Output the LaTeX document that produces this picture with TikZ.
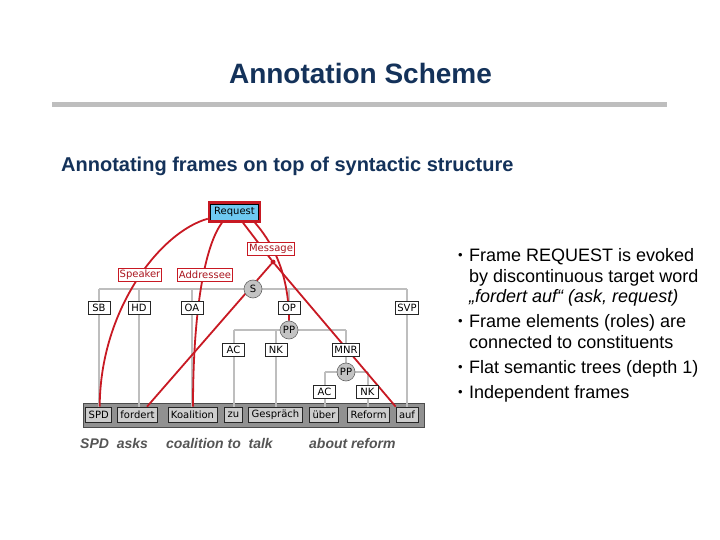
\documentclass[tikz,border=0pt]{standalone}
\usepackage{fontspec}
\setmainfont{Liberation Sans}
\newfontfamily\tigerfont{DejaVu Sans}
\usetikzlibrary{positioning, fit, backgrounds, calc}
\definecolor{slnavy}{RGB}{20,50,90}
\definecolor{slrule}{RGB}{190,190,190}
\definecolor{frred}{RGB}{200,25,35}
\definecolor{reqblue}{RGB}{110,200,240}
\definecolor{treegray}{RGB}{190,190,190}
\definecolor{barfill}{RGB}{145,145,145}
\definecolor{wordfill}{RGB}{205,205,205}
\definecolor{catfill}{RGB}{195,195,195}
\definecolor{transgray}{RGB}{85,85,85}
\tikzset{
  tigertxt/.style  = {font=\tigerfont\fontsize{10}{11}\selectfont},
  wordbox/.style   = {tigertxt, draw=black!85, fill=wordfill, line width=0.6pt,
                      minimum height=15pt, inner xsep=3pt, inner ysep=0pt},
  edgelab/.style   = {tigertxt, draw=black!85, fill=white, line width=0.6pt,
                      minimum height=13pt, minimum width=22pt,
                      inner xsep=2pt, inner ysep=0pt},
  catnode/.style   = {tigertxt, circle, draw=black!60, fill=catfill,
                      line width=0.6pt, minimum size=18pt, inner sep=0pt},
  felab/.style     = {tigertxt, draw=frred, fill=white, line width=0.8pt,
                      text=frred!85!black, minimum height=13pt,
                      inner xsep=1.5pt, inner ysep=0pt},
  reqbox/.style    = {tigertxt, draw=black, fill=reqblue, line width=0.6pt,
                      minimum height=16pt, minimum width=48pt, inner sep=0pt},
  treeline/.style  = {draw=treegray, line width=2pt},
  feline/.style    = {draw=frred, line width=1.8pt},
  slidetxt/.style  = {anchor=base west, inner sep=0pt,
                      font=\fontsize{18}{21}\selectfont},
  bulletmark/.style= {anchor=base, inner sep=0pt,
                      font=\fontsize{13}{15}\selectfont},
  transtxt/.style  = {anchor=base west, inner sep=0pt, text=transgray,
                      font=\fontsize{14}{16}\selectfont\bfseries\itshape},
}

\begin{document}
\begin{tikzpicture}[x=1pt, y=-1pt]
  \useasboundingbox (0,0) rectangle (720,540);

  % slide heading
  \node[anchor=base, inner sep=0pt, text=slnavy,
        font=\fontsize{28}{32}\selectfont\bfseries] (title) at (360.5,84) {Annotation Scheme};
  \draw[slrule, line width=5pt] (52,104.3) -- (666.5,104.3);
  \node[anchor=base west, inner sep=0pt, text=slnavy,
        font=\fontsize{20}{24}\selectfont\bfseries] (subtitle) at (61,172)
        {Annotating frames on top of syntactic structure};

  % terminals
  \node[wordbox] (spd)       at (98.7,414.5)  {SPD};
  \node[wordbox] (fordert)   at (137.5,414.5) {fordert};
  \node[wordbox] (koalition) at (192.5,414.5) {Koalition};
  \node[wordbox] (zu)        at (233.5,414.5) {zu};
  \node[wordbox] (gespraech) at (275.5,414.5) {Gespräch};
  \node[wordbox] (ueber)     at (324,414.5)   {über};
  \node[wordbox] (reform)    at (368.5,414.5) {Reform};
  \node[wordbox] (auf)       at (407,414.5)   {auf};

  % syntax tree
  \node[catnode] (s)   at (253,289) {S};
  \node[edgelab] (sb)  at (99,308)  {SB};
  \node[edgelab] (hd)  at (139,308) {HD};
  \node[edgelab] (oa)  at (192,308) {OA};
  \node[edgelab] (op)  at (289,308) {OP};
  \node[edgelab] (svp) at (407,308) {SVP};
  \node[catnode] (pp1) at (289,330) {PP};
  \node[edgelab] (ac1) at (233.5,350) {AC};
  \node[edgelab] (nk1) at (276,350)   {NK};
  \node[edgelab] (mnr) at (346,350)   {MNR};
  \node[catnode] (pp2) at (346,372)   {PP};
  \node[edgelab] (ac2) at (324.5,392) {AC};
  \node[edgelab] (nk2) at (367.5,392) {NK};

  % frame
  \node[reqbox] (req) at (234.5,212) {Request};
  \node[fit=(req), draw=frred, line width=2.5pt, inner sep=1.2pt] (reqf) {};
  \node[felab] (message)   at (271,249) {Message};
  \node[felab] (speaker)   at (140,275) {Speaker};
  \node[felab] (addressee) at (205,275) {Addressee};
  \node[circle, fill=frred, minimum size=5pt, inner sep=0pt] (tgt) at (273,262) {};

  % translation
  \node[transtxt] (trspd)  at (80,448)  {SPD\ \ asks};
  \node[transtxt] (trkoal) at (166,448) {coalition to\ \ talk};
  \node[transtxt] (trref)  at (309,448) {about reform};

  % bullet list
  \foreach \yy/\txt in {261/{Frame REQUEST is evoked},
                        282/{by discontinuous target word},
                        302/{\itshape „fordert auf“ (ask, request)},
                        327/{Frame elements (roles) are},
                        348/{connected to constituents},
                        373/{Flat semantic trees (depth 1)},
                        398/{Independent frames}}
    \node[slidetxt] (line\yy) at (469,\yy) {\txt};
  \foreach \yy in {261,327,373,398}
    \node[bulletmark] (bul\yy) at (460.5,\yy-2) {\textbullet};

  \begin{scope}[on background layer]
    \fill[white] (0,0) rectangle (720,540);
    \node[fill=barfill, draw=black!70, line width=0.8pt, minimum width=341pt,
          minimum height=24pt, inner sep=0pt] (bar) at (253.5,415) {};
    % tree edges
    \draw[treeline] (sb |- s) -- (svp |- s);
    \foreach \lab/\wd in {sb/spd, hd/fordert, oa/koalition, svp/auf}
      \draw[treeline] (\lab |- s) -- (\lab |- \wd.north);
    \draw[treeline] (op |- s) -- (pp1);
    \draw[treeline] (ac1 |- pp1) -- (mnr |- pp1);
    \foreach \lab/\wd in {ac1/zu, nk1/gespraech}
      \draw[treeline] (\lab |- pp1) -- (\lab |- \wd.north);
    \draw[treeline] (mnr |- pp1) -- (pp2);
    \draw[treeline] (ac2 |- pp2) -- (nk2 |- pp2);
    \foreach \lab/\wd in {ac2/ueber, nk2/reform}
      \draw[treeline] (\lab |- pp2) -- (\lab |- \wd.north);
    % frame edges
    \draw[feline] ([yshift=4pt]reqf.south west) .. controls (160,232) and (100,310) .. ([xshift=1pt]spd.north);
    \draw[feline] ([xshift=-12.5pt]reqf.south) .. controls (205,245) and (193,310) .. ([xshift=0.5pt]koalition.north);
    \draw[feline] ([xshift=8.5pt]reqf.south) -- (tgt) -- ([xshift=9.5pt]fordert.north);
    \draw[feline] ([xshift=20.5pt]reqf.south) .. controls (270,240) and (289,270) .. (pp1);
    \draw[feline] (tgt) -- (auf.north west);
  \end{scope}
\end{tikzpicture}
\end{document}
